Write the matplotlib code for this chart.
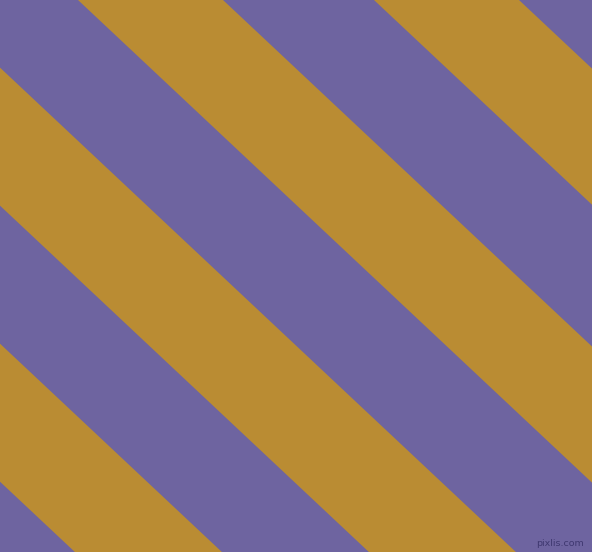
import matplotlib
matplotlib.use("Agg")
import matplotlib.pyplot as plt

# canvas size in pixels
width_px = 592
height_px = 552

# where each gold band meets the top edge (x, px); extended past the left edge
gold_left = [-513, -219, 78, 374]
gold_right = [-366, -72, 223, 519]
# horizontal drift of every band per pixel going down
drift = 1.065

purple = "#6E64A0"
gold = "#BA8C33"

fig = plt.figure(figsize=(width_px / 100, height_px / 100), dpi=100)
ax = fig.add_axes([0, 0, 1, 1])
ax.set_facecolor(purple)
ax.set_xlim(0, width_px)
ax.set_ylim(height_px, 0)

# each band is a parallelogram sheared along the drift
for left, right in zip(gold_left, gold_right):
    shift = drift * height_px
    xs = [left, right, right + shift, left + shift]
    ys = [0, 0, height_px, height_px]
    ax.fill(xs, ys, color=gold, linewidth=0, antialiased=True)

# small watermark in the bottom right corner
ax.text(584, 543, "pixlis.com", color="#3F3870", fontsize=6.8,
        ha="right", va="center", family="DejaVu Sans")
ax.axis("off")

fig.savefig("out.png", dpi=100, facecolor=purple)
